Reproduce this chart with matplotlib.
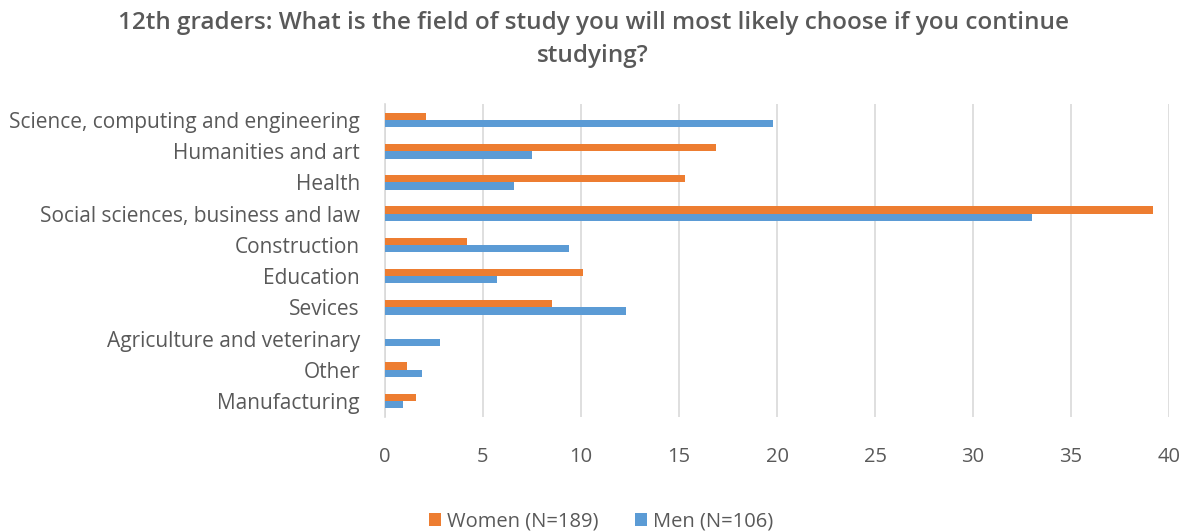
import matplotlib
matplotlib.use("Agg")
import matplotlib.pyplot as plt
import numpy as np

categories = ["Science, computing and engineering", "Humanities and art", "Health",
              "Social sciences, business and law", "Construction", "Education",
              "Sevices", "Agriculture and veterinary", "Other", "Manufacturing"]
women = [2.1, 16.9, 15.3, 39.2, 4.2, 10.1, 8.5, 0.0, 1.1, 1.6]
men = [19.8, 7.5, 6.6, 33.0, 9.4, 5.7, 12.3, 2.8, 1.9, 0.9]
xticks = [0, 5, 10, 15, 20, 25, 30, 35, 40]
title = "12th graders: What is the field of study you will most likely choose if you continue\nstudying?"

plt.rcParams['font.family'] = ['Open Sans', 'DejaVu Sans']
txt = '#595959'

fig = plt.figure(figsize=(11.86, 5.31), dpi=100)
ax = fig.add_axes([0.3246, 0.2155, 0.9857 - 0.3246, 0.8034 - 0.2155])

y = np.arange(len(categories))
h = 0.235
ax.barh(y - h / 2, women, height=h, color='#ED7D31', label='Women (N=189)', zorder=3)
ax.barh(y + h / 2, men, height=h, color='#5B9BD5', label='Men (N=106)', zorder=3)

ax.set_ylim(len(categories) - 0.5, -0.5)
ax.set_xlim(0, 40)
ax.set_xticks(xticks)
ax.set_xticklabels([str(t) for t in xticks])
ax.set_yticks(y)
ax.set_yticklabels(categories)
ax.tick_params(axis='y', length=0, pad=18, labelsize=15, labelcolor=txt)
ax.tick_params(axis='x', length=0, pad=22, labelsize=14.5, labelcolor=txt)
ax.grid(axis='x', color='#D9D9D9', linewidth=1.2, zorder=0)
for s in ['top', 'right', 'bottom']:
    ax.spines[s].set_visible(False)
ax.spines['left'].set_color('#D9D9D9')
ax.spines['left'].set_linewidth(1.2)

fig.suptitle(title, x=0.5, y=0.98, fontsize=17.5, fontweight='semibold', color=txt,
             linespacing=1.5, va='top')

leg = fig.legend(loc='lower center', bbox_to_anchor=(0.507, -0.035), ncol=2, frameon=False,
                 fontsize=14.5, handlelength=0.6, handleheight=0.6, handletextpad=0.3,
                 columnspacing=1.8)
for t in leg.get_texts():
    t.set_color(txt)

fig.savefig('out.png', dpi=100)
